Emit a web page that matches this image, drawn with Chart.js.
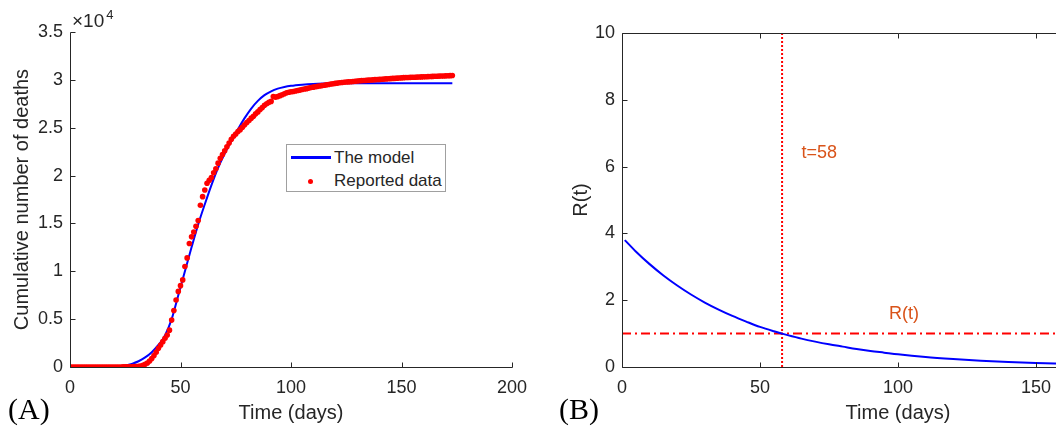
<!DOCTYPE html>
<html>
<head>
<meta charset="utf-8">
<title>Deaths and R(t)</title>
<script src="https://cdn.jsdelivr.net/npm/chart.js@4.4.1/dist/chart.umd.min.js"></script>
<style>
  html, body { margin: 0; padding: 0; background: #fff; overflow: hidden; }
  body { width: 1056px; height: 431px; position: relative; font-family: "Liberation Sans", Arial, sans-serif; color: #262626; }
  .panel { position: absolute; top: 0; height: 431px; }
  #panelA { left: 0; width: 540px; }
  #panelB { left: 556px; width: 644px; }
  .tag { position: absolute; top: 392px; font-family: "Liberation Serif", "Times New Roman", serif; font-size: 30px; color: #000; }
  .legend { position: absolute; left: 286px; top: 144px; width: 158px; height: 46px; border: 1px solid #a0a0a0; background: #fff; font-size: 17px; }
  .legend .row { position: absolute; left: 47px; height: 20px; line-height: 20px; white-space: nowrap; }
  .legend .swatch-line { position: absolute; left: 4px; top: 11px; width: 40px; height: 3px; background: #0000ff; }
  .legend .swatch-dot { position: absolute; left: 21px; top: 34px; width: 5px; height: 5px; border-radius: 50%; background: #ff0000; }
</style>
</head>
<body>
<div class="panel" id="panelA"><canvas id="chartA"></canvas></div>
<div class="panel" id="panelB"><canvas id="chartB"></canvas></div>
<div class="legend">
  <div class="swatch-line"></div>
  <div class="row" style="top:3px">The model</div>
  <div class="swatch-dot"></div>
  <div class="row" style="top:26px">Reported data</div>
</div>
<div class="tag" style="left:8px">(A)</div>
<div class="tag" style="left:559px">(B)</div>

<script>
// (A) reported cumulative deaths, one value per day starting at day 0
var reportedDeaths = [
  0, 0, 0, 0, 0, 0, 0, 0, 0, 0,
  0, 0, 0, 0, 0, 1, 1, 2, 2, 3,
  3, 4, 5, 7, 9, 12, 16, 21, 27, 35,
  48, 70, 110, 180, 280, 420, 620, 880, 1200, 1550,
  1950, 2300, 2650, 3000, 3350, 3850, 4900, 5900, 7000, 7900,
  8500, 9100, 10500, 11400, 12900, 13600, 14100, 14700, 15300, 16900,
  17800, 18500, 19200, 19500, 19800, 20300, 20700, 21300, 21800, 22200,
  22600, 23000, 23400, 23800, 24100, 24350, 24600, 24800, 25050, 25300,
  25550, 25750, 26000, 26200, 26450, 26650, 26900, 27100, 27350, 27500,
  27650, 27750, 28250, 28200, 28250, 28350, 28450, 28550, 28650, 28700,
  28760, 28790, 28840, 28890, 28930, 28990, 29040, 29080, 29140, 29190,
  29240, 29280, 29320, 29360, 29400, 29440, 29480, 29520, 29560, 29600,
  29630, 29660, 29690, 29720, 29750, 29770, 29790, 29810, 29830, 29850,
  29880, 29900, 29920, 29940, 29950, 29970, 29990, 30000, 30020, 30030,
  30050, 30070, 30080, 30100, 30110, 30130, 30150, 30160, 30180, 30190,
  30210, 30230, 30240, 30250, 30260, 30270, 30280, 30290, 30300, 30310,
  30320, 30330, 30340, 30350, 30360, 30370, 30380, 30390, 30400, 30410,
  30420, 30430, 30440, 30450
];

// (A) fitted model curve
var modelDays   = [0, 10, 15, 20, 24, 28, 31, 34, 37, 40, 43, 46, 49, 52, 55, 58, 61, 64, 67, 70, 73, 76, 79, 82, 85, 88, 91, 94, 97, 100, 105, 110, 115, 120, 140, 173];
var modelDeaths = [0, 0, 5, 30, 120, 330, 600, 1000, 1550, 2300, 3300, 5000, 7500, 10000, 12500, 14900, 17000, 19000, 20800, 22300, 23600, 24850, 26000, 27000, 27800, 28400, 28800, 29080, 29260, 29380, 29500, 29580, 29620, 29640, 29650, 29650];

var yTickLabelsA = ['0', '0.5', '1', '1.5', '2', '2.5', '3', '3.5'];

// (B) effective reproduction number
var rDays   = [1, 5, 10, 15, 20, 25, 30, 35, 40, 45, 50, 55, 58, 60, 65, 70, 75, 80, 85, 90, 95, 100, 110, 120, 130, 140, 150, 160, 173];
var rValues = [3.80, 3.46, 3.08, 2.74, 2.44, 2.17, 1.93, 1.72, 1.53, 1.36, 1.20, 1.07, 1.00, 0.955, 0.85, 0.76, 0.68, 0.61, 0.54, 0.48, 0.43, 0.38, 0.30, 0.24, 0.19, 0.15, 0.12, 0.095, 0.07];
var crossDay = 58;
var threshold = 1;

var AXIS = '#262626';
var ORANGE = '#D95319';

function pairs(xs, ys) {
    return xs.map(function (x, i) { return { x: x, y: ys[i] }; });
}

// MATLAB style axes: plain axis lines with short ticks pointing inwards
var matlabAxes = {
    id: 'matlabAxes',
    afterDatasetsDraw: function (chart, args, opts) {
        var ctx = chart.ctx, a = chart.chartArea;
        var xs = chart.scales.x, ys = chart.scales.y;
        var L = Math.round(a.left) + 0.5, R = Math.round(a.right) + 0.5;
        var T = Math.round(a.top) + 0.5, B = Math.round(a.bottom) + 0.5;
        ctx.save();
        ctx.strokeStyle = AXIS;
        ctx.lineWidth = 1;
        ctx.beginPath();
        ctx.moveTo(L, T); ctx.lineTo(L, B); ctx.lineTo(R, B);
        if (opts.box) { ctx.lineTo(R, T); ctx.lineTo(L, T); }
        xs.ticks.forEach(function (t) {
            var px = Math.round(xs.getPixelForValue(t.value)) + 0.5;
            ctx.moveTo(px, B); ctx.lineTo(px, B - 5);
            if (opts.box) { ctx.moveTo(px, T); ctx.lineTo(px, T + 5); }
        });
        ys.ticks.forEach(function (t) {
            var py = Math.round(ys.getPixelForValue(t.value)) + 0.5;
            ctx.moveTo(L, py); ctx.lineTo(L + 5, py);
            if (opts.box) { ctx.moveTo(R, py); ctx.lineTo(R - 5, py); }
        });
        ctx.stroke();

        // x10^4 multiplier above the y axis
        if (opts.exponent) {
            ctx.fillStyle = AXIS;
            ctx.textBaseline = 'alphabetic';
            ctx.font = '19px "Liberation Sans", Arial, sans-serif';
            ctx.fillText('\u00d710', a.left + 2, a.top - 5);
            var w = ctx.measureText('\u00d710').width;
            ctx.font = '13px "Liberation Sans", Arial, sans-serif';
            ctx.fillText(opts.exponent, a.left + 4 + w, a.top - 13);
        }

        // text notes placed in data units
        (opts.notes || []).forEach(function (n) {
            ctx.fillStyle = ORANGE;
            ctx.font = '18px "Liberation Sans", Arial, sans-serif';
            ctx.textBaseline = 'middle';
            ctx.fillText(n.text, xs.getPixelForValue(n.x), ys.getPixelForValue(n.y));
        });
        ctx.restore();
    }
};

function baseScales(xMax, yMax, yStep, yTitle, yWidth, yTitlePad) {
    return {
        x: {
            type: 'linear', min: 0, max: xMax,
            grid: { display: false, drawTicks: false }, border: { display: false },
            ticks: { stepSize: 50, color: AXIS, padding: 10, font: { size: 18 } },
            title: { display: true, text: 'Time (days)', color: AXIS, font: { size: 20 }, padding: { top: 0, bottom: 6 } },
            afterFit: function (s) { s.height = 64; }
        },
        y: {
            min: 0, max: yMax,
            grid: { display: false, drawTicks: false }, border: { display: false },
            ticks: { stepSize: yStep, color: AXIS, padding: 7, font: { size: 18 } },
            title: { display: true, text: yTitle, color: AXIS, font: { size: 20 }, padding: { top: yTitlePad, bottom: 0 } },
            afterFit: function (s) { s.width = yWidth; }
        }
    };
}

Chart.defaults.font.family = '"Liberation Sans", Arial, sans-serif';
Chart.defaults.animation = false;

var scalesA = baseScales(200, 35000, 5000, 'Cumulative number of deaths', 70, 10);
scalesA.y.ticks.callback = function (v) { return yTickLabelsA[Math.round(v / 5000)]; };

new Chart(document.getElementById('chartA').getContext('2d'), {
    type: 'scatter',
    data: {
        datasets: [{
            label: 'Reported data',
            data: pairs(reportedDeaths.map(function (v, i) { return i; }), reportedDeaths),
            backgroundColor: '#ff0000',
            borderWidth: 0,
            pointRadius: 2.8,
            order: 0
        }, {
            label: 'The model',
            data: pairs(modelDays, modelDeaths),
            showLine: true,
            borderColor: '#0000ff',
            borderWidth: 2,
            pointRadius: 0,
            cubicInterpolationMode: 'monotone',
            order: 1
        }]
    },
    options: {
        responsive: true,
        maintainAspectRatio: false,
        events: [],
        layout: { padding: { left: 0, right: 28, top: 32, bottom: 0 } },
        scales: scalesA,
        plugins: {
            legend: { display: false },
            tooltip: { enabled: false },
            matlabAxes: { box: false, exponent: '4' }
        }
    },
    plugins: [matlabAxes]
});

new Chart(document.getElementById('chartB').getContext('2d'), {
    type: 'scatter',
    data: {
        datasets: [{
            label: 'R(t)',
            data: pairs(rDays, rValues),
            showLine: true,
            borderColor: '#0000ff',
            borderWidth: 2,
            pointRadius: 0,
            cubicInterpolationMode: 'monotone'
        }, {
            label: 't=58',
            data: [{ x: crossDay, y: 0 }, { x: crossDay, y: 10 }],
            showLine: true,
            borderColor: '#ff0000',
            borderWidth: 2,
            borderDash: [2, 2],
            pointRadius: 0
        }, {
            label: 'R=1',
            data: [{ x: 0, y: threshold }, { x: 200, y: threshold }],
            showLine: true,
            borderColor: '#ff0000',
            borderWidth: 2,
            borderDash: [9, 4, 2, 4],
            pointRadius: 0
        }]
    },
    options: {
        responsive: true,
        maintainAspectRatio: false,
        events: [],
        layout: { padding: { left: 0, right: 26, top: 33, bottom: 0 } },
        scales: baseScales(200, 10, 2, 'R(t)', 66, 13),
        plugins: {
            legend: { display: false },
            tooltip: { enabled: false },
            matlabAxes: {
                box: true,
                notes: [{ text: 't=58', x: 65, y: 6.4 }, { text: 'R(t)', x: 96.7, y: 1.58 }]
            }
        }
    },
    plugins: [matlabAxes]
});
</script>
</body>
</html>
